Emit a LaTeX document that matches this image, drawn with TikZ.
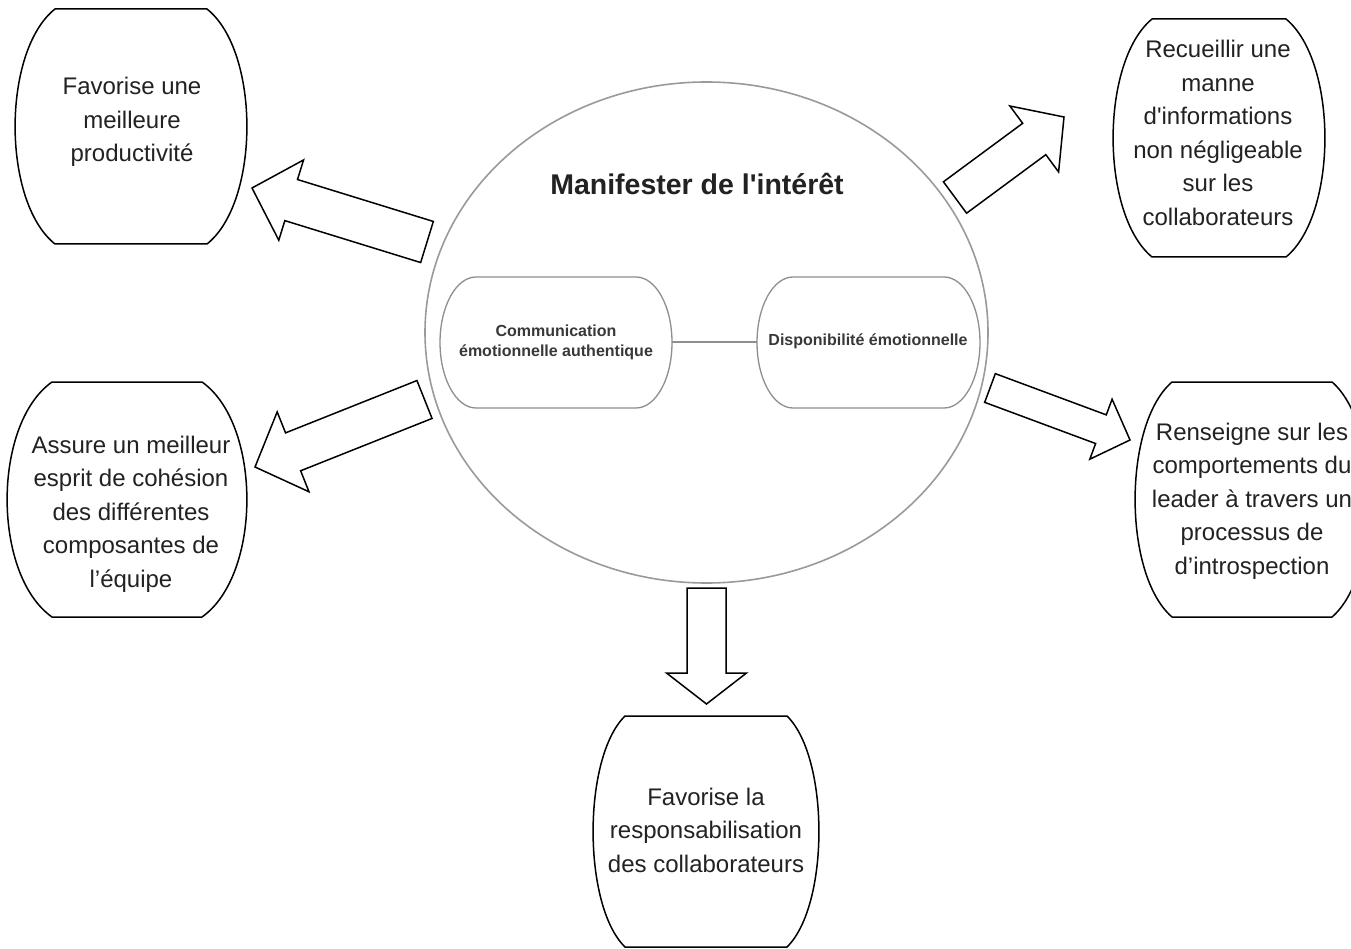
\documentclass[tikz,border=0pt]{standalone}
\usepackage{fontspec}
\setmainfont{Liberation Sans}[Ligatures=TeXOff]
\usetikzlibrary{calc}
\definecolor{ink}{HTML}{222222}
\definecolor{ringgray}{HTML}{9A9A9A}
\definecolor{pillgray}{HTML}{8E8E8E}
\newcommand{\blockarr}[5]{%
  \coordinate (nk) at ($(#2)!#5!(#1)$);
  \draw[arrline] ($(#1)!#3!90:(#2)$) -- ($(nk)!#3!-90:(#1)$) -- ($(nk)!#4!-90:(#1)$) -- (#2)
    -- ($(nk)!#4!90:(#1)$) -- ($(nk)!#3!90:(#1)$) -- ($(#1)!#3!-90:(#2)$) -- cycle;}
% barrel: center x, top, bottom, half flat width, bulge
\newcommand{\barrel}[5]{%
  \draw[boxline] ({#1-#4},#2) -- ({#1+#4},#2)
    .. controls ({#1+#4+1.33*#5},{#2+0.18*(#3-#2)}) and ({#1+#4+1.33*#5},{#3-0.18*(#3-#2)}) .. ({#1+#4},#3)
    -- ({#1-#4},#3)
    .. controls ({#1-#4-1.33*#5},{#3-0.18*(#3-#2)}) and ({#1-#4-1.33*#5},{#2+0.18*(#3-#2)}) .. cycle;}
\begin{document}
\begin{tikzpicture}[x=1pt,y=-1pt,
  boxline/.style={draw=black, line width=1.5pt, fill=white, line join=round},
  arrline/.style={draw=black, line width=1.5pt, fill=white, line join=miter},
  outtext/.style={font=\fontsize{24}{33.5}\selectfont, text=ink, align=center, inner sep=0pt},
  intext/.style={font=\bfseries\fontsize{16}{20}\selectfont, text=ink!90, align=center, inner sep=0pt},
  titletext/.style={font=\bfseries\fontsize{28.5}{32}\selectfont, text=ink, inner sep=0pt},
  pillline/.style={draw=pillgray, line width=1.3pt}]
\useasboundingbox (0,0) rectangle (1351,949);
\fill[white] (0,0) rectangle (1351,949);

% central ellipse
\draw[draw=ringgray, line width=1.6pt] (706.5,332.5) ellipse [x radius=281.5pt, y radius=250.5pt];
\node[titletext] (title) at (697,184) {Manifester de l'intérêt};

% pills
\draw[pillline] (476,277) -- (636,277) arc[start angle=90, end angle=-90, x radius=36pt, y radius=65.5pt]
  -- (476,408) arc[start angle=270, end angle=90, x radius=36pt, y radius=65.5pt] -- cycle;
\draw[pillline] (793,277) -- (944,277) arc[start angle=90, end angle=-90, x radius=36pt, y radius=65.5pt]
  -- (793,408) arc[start angle=270, end angle=90, x radius=36pt, y radius=65.5pt] -- cycle;
\coordinate (p1e) at (672,342);
\coordinate (p2w) at (757,342);
\node[intext] (c1) at (556,342) {Communication\\émotionnelle authentique};
\node[intext] (c2) at (868,341) {Disponibilité émotionnelle};
\draw[pillline, line width=1.1pt] (p1e) -- (p2w);

% outer barrels
\barrel{131}{9}{244}{76}{40}
\barrel{1219}{19}{257}{67}{39}
\barrel{127}{382}{617}{75}{45}
\barrel{1252}{382}{617}{80}{37}
\barrel{706}{716}{947}{81}{32}

\node[outtext] (t1) at (132,122) {Favorise une\\meilleure\\productivité};
\node[outtext] (t2) at (1218,133) {Recueillir une\\manne\\d'informations\\non négligeable\\sur les\\collaborateurs};
\node[outtext] (t3) at (131,514) {Assure un meilleur\\esprit de cohésion\\des différentes\\composantes de\\l’équipe};
\node[outtext] (t4) at (1252,501) {Renseigne sur les\\comportements du\\leader à travers un\\processus de\\d’introspection};
\node[outtext] (t5) at (706,830) {Favorise la\\responsabilisation\\des collaborateurs};

% block arrows
\coordinate (a1s) at (427,242);   \coordinate (a1e) at (252,188);
\coordinate (a2s) at (955,197.5); \coordinate (a2e) at (1064,117);
\coordinate (a3s) at (424.5,399.5); \coordinate (a3e) at (255,467);
\coordinate (a4s) at (990,388);   \coordinate (a4e) at (1130,440);
\coordinate (a5s) at (706.5,588); \coordinate (a5e) at (706.5,704);
\blockarr{a1s}{a1e}{21.5pt}{42pt}{41pt}
\blockarr{a2s}{a2e}{19.5pt}{41pt}{37pt}
\blockarr{a3s}{a3e}{20.4pt}{43pt}{41pt}
\blockarr{a4s}{a4e}{15.3pt}{32pt}{31pt}
\blockarr{a5s}{a5e}{19.5pt}{40pt}{31pt}
\end{tikzpicture}
\end{document}
